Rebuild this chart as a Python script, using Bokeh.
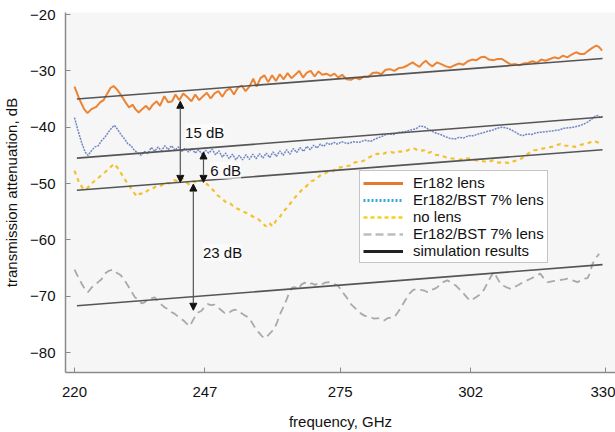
from bokeh.plotting import figure
from bokeh.models import Range1d, FixedTicker, Arrow, NormalHead, Label, Legend, LegendItem
from bokeh.embed import file_html
from bokeh.resources import INLINE

# ---------------- data ----------------
x_ticks = [220, 247, 275, 302, 330]
y_ticks = [-80, -70, -60, -50, -40, -30, -20]

er182_f = [220.0, 221.0, 222.0, 222.7, 223.5, 224.5, 225.3, 226.0, 226.8, 227.5, 228.1, 228.8, 229.7, 230.5,
           231.3, 232.0, 232.6, 233.3, 234.0, 234.8, 235.5, 236.2, 237.0, 237.7, 238.6, 239.4, 240.2, 240.9,
           241.7, 242.5, 243.3, 244.2, 245.0, 245.8, 246.6, 247.4, 248.2, 249.0, 249.8, 250.6, 251.4, 252.2,
           253.0, 253.8, 254.6, 255.4, 256.2, 257.0, 257.7, 258.5, 259.3, 260.1, 260.9, 261.7, 262.5, 263.3,
           264.1, 264.9, 265.7, 266.5, 267.3, 268.1, 268.9, 269.7, 270.5, 271.3, 272.1, 273.0, 273.8, 274.6,
           275.4, 276.3, 277.2, 278.1, 279.0, 279.9, 280.8, 281.7, 282.6, 283.5, 284.4, 285.3, 286.2, 287.1,
           288.0, 289.0, 290.0, 290.8, 291.4, 292.0, 292.7, 293.4, 294.1, 295.0, 295.9, 296.9, 297.8, 298.7,
           299.6, 300.5, 301.4, 302.3, 303.2, 304.1, 304.9, 305.8, 306.7, 307.6, 308.5, 309.4, 310.3, 311.2,
           312.1, 313.0, 313.9, 314.8, 315.7, 316.6, 317.5, 318.4, 319.3, 320.2, 321.1, 322.0, 322.9, 323.8,
           324.7, 325.5, 326.4, 327.2, 328.0, 328.6, 329.2]
er182_db = [-32.8, -35.0, -36.8, -37.5, -36.8, -36.4, -35.6, -35.2, -34.0, -33.0, -32.7, -33.3, -34.4, -35.5,
            -36.5, -36.0, -36.8, -37.4, -36.8, -36.2, -36.9, -36.0, -35.4, -36.2, -34.5, -35.6, -35.4, -34.2,
            -35.2, -34.0, -34.6, -35.4, -34.2, -35.2, -34.5, -33.9, -34.9, -34.0, -33.6, -34.6, -33.5, -33.1,
            -34.2, -33.0, -32.6, -33.6, -32.8, -31.4, -32.8, -31.3, -30.8, -32.0, -30.8, -31.8, -30.6, -31.5,
            -30.4, -31.3, -30.7, -30.0, -31.2, -30.3, -30.0, -31.0, -30.1, -30.7, -30.5, -30.9, -30.5, -31.2,
            -30.7, -31.5, -31.6, -31.2, -31.5, -31.0, -31.1, -30.4, -30.3, -30.6, -29.8, -29.7, -30.0, -29.5,
            -29.4, -29.0, -28.5, -29.0, -29.3, -28.7, -28.2, -28.8, -29.2, -28.5, -28.8, -29.2, -29.4, -29.0,
            -28.7, -28.9, -28.3, -28.0, -28.1, -27.6, -27.5, -28.0, -28.1, -27.9, -27.9, -28.4, -28.9, -28.8,
            -29.0, -28.7, -28.6, -28.3, -28.6, -28.0, -28.2, -27.9, -27.6, -27.8, -27.3, -27.6, -27.1, -26.7,
            -27.0, -27.0, -26.4, -25.9, -25.5, -25.8, -26.4]

bst_a_f = [220.0, 220.7, 221.5, 222.2, 222.8, 223.5, 224.2, 224.9, 225.6, 226.3, 227.0, 227.7, 228.3, 229.0,
           229.6, 230.3, 231.0, 231.7, 232.4, 233.1, 233.8, 234.5, 235.2, 235.9, 236.6, 237.3, 238.0, 238.7,
           239.4, 240.1, 240.8, 241.5, 242.2, 242.9, 243.6, 244.3, 245.0, 245.7, 246.4, 247.1, 247.8, 248.5,
           249.2, 249.9, 250.6, 251.3, 252.0, 252.7, 253.4, 254.1, 254.8, 255.5, 256.2, 256.9, 257.6, 258.3,
           259.0, 259.7, 260.4, 261.1, 261.8, 262.5, 263.2, 263.9, 264.6, 265.3, 266.0, 266.7, 267.4, 268.1,
           268.8, 269.5, 270.2, 270.9, 271.6, 272.3, 273.0, 273.7, 274.4, 275.3, 276.5, 277.7, 278.9, 280.1,
           281.3, 282.5, 283.7, 284.8, 286.0, 287.2, 288.4, 289.6, 290.6, 291.5, 292.4, 293.3, 294.2, 295.0,
           295.8, 296.8, 297.8, 298.7, 299.6, 300.6, 301.6, 302.6, 303.6, 304.6, 305.6, 306.6, 307.5, 308.4,
           309.3, 310.2, 311.1, 312.0, 312.8, 313.7, 314.6, 315.5, 316.5, 317.5, 318.5, 319.4, 320.3, 321.3,
           322.3, 323.3, 324.3, 325.3, 326.2, 327.0, 327.7, 328.3, 328.8, 329.3]
bst_a_db = [-38.3, -40.5, -42.8, -44.4, -45.0, -44.2, -43.5, -43.3, -42.4, -41.8, -40.9, -40.1, -39.7, -40.5,
            -41.3, -42.0, -42.9, -43.3, -44.1, -44.6, -45.0, -44.3, -44.7, -43.6, -44.3, -43.5, -44.2, -43.3,
            -44.0, -43.3, -44.1, -43.5, -44.3, -43.7, -44.4, -43.8, -44.6, -44.0, -44.8, -44.1, -44.6, -43.9,
            -44.9, -44.2, -45.3, -44.6, -45.6, -44.8, -45.8, -45.0, -45.8, -44.9, -45.7, -44.8, -45.6, -44.7,
            -45.5, -44.6, -45.4, -44.4, -45.2, -44.2, -45.0, -44.0, -44.8, -43.8, -44.5, -43.6, -44.3, -43.4,
            -44.0, -43.2, -43.7, -43.0, -43.4, -42.8, -43.1, -42.7, -43.0, -42.6, -42.9, -42.6, -42.7, -42.3,
            -42.5, -42.0, -41.6, -41.2, -41.3, -40.9, -40.8, -40.5, -40.3, -39.8, -39.9, -40.4, -40.8, -41.1,
            -41.3, -41.7, -42.0, -42.1, -41.8, -41.9, -41.5, -41.5, -41.2, -41.0, -40.7, -40.5, -40.2, -40.0,
            -40.1, -40.4, -40.8, -41.3, -41.5, -41.2, -41.3, -41.0, -40.9, -40.8, -40.7, -40.6, -40.5, -40.2,
            -40.1, -40.0, -39.8, -39.5, -39.1, -38.6, -38.1, -37.9, -38.3, -38.1]

nolens_f = [220.0, 220.8, 221.8, 222.5, 223.3, 224.2, 225.2, 226.3, 227.3, 228.2, 229.0, 229.8, 230.6, 231.5,
            232.3, 232.9, 233.6, 234.4, 235.2, 236.1, 237.0, 237.9, 238.8, 239.7, 240.6, 241.4, 242.2, 243.0,
            243.8, 244.6, 245.4, 246.2, 247.0, 247.8, 248.7, 249.6, 250.5, 251.4, 252.3, 253.2, 254.1, 255.0,
            256.0, 257.0, 258.0, 258.9, 259.6, 260.3, 261.0, 261.7, 262.4, 263.2, 264.0, 264.8, 265.6, 266.4,
            267.2, 268.1, 269.0, 269.9, 270.8, 271.7, 272.6, 273.5, 274.4, 275.3, 276.2, 277.2, 278.1, 279.0,
            280.0, 280.9, 281.8, 282.7, 283.6, 284.5, 285.5, 286.4, 287.3, 288.2, 289.2, 290.3, 291.3, 292.4,
            293.1, 293.8, 294.8, 295.8, 296.7, 297.7, 298.6, 299.7, 300.8, 302.0, 303.2, 304.3, 305.5, 306.6,
            307.8, 308.9, 310.0, 311.0, 311.7, 312.4, 313.0, 313.7, 314.4, 315.1, 316.0, 316.9, 317.9, 318.8,
            319.7, 320.6, 321.6, 322.7, 323.5, 324.4, 325.4, 326.4, 327.5, 328.3, 329.2]
nolens_db = [-47.7, -49.5, -51.0, -51.0, -50.2, -49.5, -48.8, -48.0, -47.2, -46.5, -47.3, -48.4, -49.5, -50.6,
             -51.6, -52.3, -51.8, -51.8, -51.2, -51.0, -50.4, -50.4, -49.8, -50.0, -49.4, -49.6, -49.0, -49.7,
             -50.2, -49.6, -49.9, -49.4, -49.8, -50.4, -51.2, -52.1, -52.6, -53.4, -53.6, -54.3, -54.6, -55.0,
             -55.4, -55.9, -56.3, -57.0, -57.6, -57.0, -57.6, -56.6, -56.1, -55.0, -54.3, -53.4, -52.5, -51.8,
             -51.0, -50.4, -49.6, -49.3, -48.6, -48.3, -47.8, -47.8, -47.2, -47.1, -46.9, -46.8, -46.2, -46.2,
             -45.9, -45.4, -45.0, -44.7, -44.9, -44.5, -44.4, -44.6, -44.3, -44.4, -44.0, -43.8, -44.2, -44.1,
             -44.6, -44.4, -44.9, -45.0, -45.3, -45.5, -45.6, -45.8, -45.5, -45.6, -45.9, -46.0, -46.2, -45.9,
             -46.3, -46.2, -46.4, -46.0, -45.9, -45.6, -45.3, -44.8, -44.4, -44.1, -44.0, -43.8, -43.6, -43.5,
             -43.2, -43.0, -43.3, -43.3, -43.5, -43.2, -43.0, -42.8, -42.4, -42.7, -43.0]

bst_b_f = [220.0, 220.7, 221.5, 222.2, 222.8, 223.5, 224.2, 224.9, 225.6, 226.3, 227.1, 228.0, 228.8, 229.6,
           230.4, 231.1, 231.8, 232.5, 233.2, 233.9, 234.5, 235.2, 235.9, 236.6, 237.3, 238.0, 238.7, 239.4,
           240.0, 240.7, 241.4, 242.1, 242.8, 243.5, 243.9, 244.5, 245.1, 245.6, 246.3, 247.0, 247.6, 248.3,
           249.0, 249.7, 250.4, 251.1, 251.8, 252.5, 253.2, 253.8, 254.5, 255.2, 255.9, 256.6, 257.3, 258.0,
           258.7, 259.3, 260.0, 260.7, 261.4, 262.0, 262.6, 263.2, 263.9, 264.5, 265.0, 265.6, 266.3, 267.0,
           267.7, 268.4, 269.1, 269.8, 270.5, 271.2, 271.9, 272.6, 273.2, 273.9, 274.6, 275.5, 276.4, 277.2,
           278.2, 279.3, 280.1, 281.0, 282.0, 282.9, 283.6, 284.1, 284.8, 285.5, 286.2, 286.9, 287.6, 288.4,
           289.3, 290.1, 291.0, 291.7, 292.4, 293.1, 293.8, 294.5, 295.1, 295.8, 296.5, 297.2, 298.0, 298.9,
           299.7, 300.6, 301.3, 302.0, 302.7, 303.4, 304.1, 304.8, 305.5, 306.2, 306.8, 307.5, 308.2, 308.9,
           309.6, 310.3, 311.0, 311.7, 312.3, 313.0, 313.7, 314.4, 315.1, 315.8, 316.4, 317.1, 317.9, 318.6,
           319.3, 320.0, 320.7, 321.4, 322.0, 322.7, 323.4, 324.1, 324.8, 325.5, 326.2, 326.7, 327.2, 327.7,
           328.1, 328.6]
bst_b_db = [-65.3, -66.5, -67.8, -68.8, -69.3, -68.5, -68.0, -67.5, -67.0, -66.0, -65.5, -65.3, -65.9, -66.3,
            -67.2, -68.2, -69.2, -70.2, -70.6, -71.3, -71.1, -70.6, -70.4, -70.2, -71.0, -71.5, -72.0, -72.3,
            -72.8, -73.1, -73.6, -74.0, -74.5, -75.1, -75.3, -74.3, -73.4, -72.9, -72.6, -71.8, -71.4, -71.6,
            -71.5, -72.0, -72.5, -73.0, -73.1, -72.6, -72.4, -72.5, -73.0, -73.4, -73.7, -74.5, -75.5, -76.3,
            -77.0, -77.5, -77.0, -76.4, -75.7, -74.5, -73.1, -72.0, -70.6, -69.3, -68.5, -68.4, -68.8, -67.9,
            -67.6, -68.0, -67.7, -68.0, -67.7, -67.9, -67.6, -67.5, -67.6, -67.9, -68.2, -69.3, -70.3, -71.4,
            -72.2, -73.1, -73.5, -73.6, -74.0, -73.9, -74.3, -74.3, -73.9, -73.8, -73.7, -72.9, -72.0, -70.8,
            -69.6, -68.9, -68.7, -68.9, -69.0, -69.3, -68.9, -68.7, -68.4, -67.9, -67.4, -67.2, -67.6, -68.1,
            -68.8, -69.6, -70.3, -70.8, -70.4, -70.0, -69.6, -68.8, -67.6, -66.5, -65.7, -66.8, -67.8, -68.2,
            -68.5, -68.7, -68.4, -68.1, -67.8, -67.5, -67.2, -66.9, -66.6, -66.3, -66.0, -66.8, -67.5, -67.4,
            -67.3, -67.2, -67.1, -67.0, -66.9, -67.1, -67.3, -67.5, -67.2, -66.9, -66.8, -65.9, -64.3, -63.5,
            -63.0, -62.5]

sim_f = [220.5, 329.3]
sim_1 = [-35.0, -27.8]
sim_2 = [-45.5, -38.2]
sim_3 = [-51.2, -44.0]
sim_4 = [-71.7, -64.4]

# arrows: (freq, top, bottom), labels: (freq, dB, text)
arrow_f = [241.9, 246.7, 244.6]
arrow_top = [-35.4, -44.4, -50.1]
arrow_bot = [-49.8, -49.8, -72.5]
label_f = [242.9, 248.1, 246.6]
label_db = [-40.9, -47.7, -62.2]
label_txt = ["15 dB", "6 dB", "23 dB"]

legend_labels = ["Er182 lens", "Er182/BST 7% lens", "no lens", "Er182/BST 7% lens", "simulation results"]

FONT = "Liberation Sans"
NAN = float("nan")

p = figure(width=615, height=432, output_backend="svg", toolbar_location=None,
           x_range=Range1d(218.14, 331.98), y_range=Range1d(-83.55, -19.64),
           min_border_left=64, min_border_right=0, min_border_top=12, min_border_bottom=60)
p.background_fill_color = "#f6f6f6"
p.border_fill_color = "white"
p.outline_line_color = None
p.xgrid.visible = False
p.ygrid.visible = False

for ax in (p.xaxis[0], p.yaxis[0]):
    ax.axis_line_color = "#8a8a8a"
    ax.axis_line_width = 1.5
    ax.major_tick_line_color = "#8a8a8a"
    ax.major_tick_in = 5
    ax.major_tick_out = 0
    ax.minor_tick_line_color = None
    ax.major_label_text_font = FONT
    ax.major_label_text_font_size = "15px"
    ax.major_label_text_color = "#111111"
    ax.axis_label_text_font = FONT
    ax.axis_label_text_font_size = "15px"
    ax.axis_label_text_font_style = "normal"
    ax.axis_label_text_color = "#111111"

p.xaxis.ticker = FixedTicker(ticks=x_ticks)
p.yaxis.ticker = FixedTicker(ticks=y_ticks)
p.yaxis.major_label_overrides = {t: "\u2212" + str(abs(t)) for t in y_ticks}
p.xaxis.axis_label = "frequency, GHz"
p.yaxis.axis_label = "transmission attenuation, dB"
p.xaxis.major_label_standoff = 14
p.xaxis.axis_label_standoff = 13
p.yaxis.major_label_standoff = 10
p.yaxis.axis_label_standoff = 7

# measured curves
p.line(bst_b_f, bst_b_db, line_color="#a9a9a9", line_width=1.8, line_dash="8 5")
p.line(nolens_f, nolens_db, line_color="#f3c12e", line_width=2.2, line_dash="4 4")
p.line(bst_a_f, bst_a_db, line_color="#7286c4", line_width=1.5, line_dash="2 1")
p.line(er182_f, er182_db, line_color="#ec8433", line_width=2)

# simulation results
for s in (sim_1, sim_2, sim_3, sim_4):
    p.line(sim_f, s, line_color="#555555", line_width=1.6)

# arrows
for f, t, b in zip(arrow_f, arrow_top, arrow_bot):
    p.add_layout(Arrow(x_start=f, y_start=b, x_end=f, y_end=t,
                       line_color="#555555", line_width=1.2,
                       start=NormalHead(size=7, fill_color="#111111", line_color="#111111"),
                       end=NormalHead(size=7, fill_color="#111111", line_color="#111111")))

for f, d, t in zip(label_f, label_db, label_txt):
    p.add_layout(Label(x=f, y=d, text=t, text_font=FONT, text_font_size="15px",
                       text_color="#111111", text_baseline="middle", text_align="left",
                       background_fill_color="white", background_fill_alpha=0.6))

# legend swatches (single NaN point: nothing drawn in the plot area)
r1 = p.line([NAN], [NAN], line_color="#e8782a", line_width=3)
r2 = p.line([NAN], [NAN], line_color="#3aa6d8", line_width=3, line_dash="2 2")
r3 = p.line([NAN], [NAN], line_color="#f5d01f", line_width=2.5, line_dash="4 3")
r4 = p.line([NAN], [NAN], line_color="#bdbdbd", line_width=2.5, line_dash="8 4")
r5 = p.line([NAN], [NAN], line_color="#222222", line_width=3)

legend = Legend(items=[LegendItem(label=l, renderers=[r]) for l, r in zip(legend_labels, [r1, r2, r3, r4, r5])],
                location=(294, 109), label_text_font=FONT, label_text_font_size="15px",
                label_text_color="#111111", glyph_width=40, glyph_height=16, label_height=16,
                spacing=0, padding=3, margin=0, label_standoff=10,
                border_line_color="#8a8a8a", border_line_width=1,
                background_fill_color="white", background_fill_alpha=1)
p.add_layout(legend)

open("out.html", "w").write(file_html(p, INLINE))
